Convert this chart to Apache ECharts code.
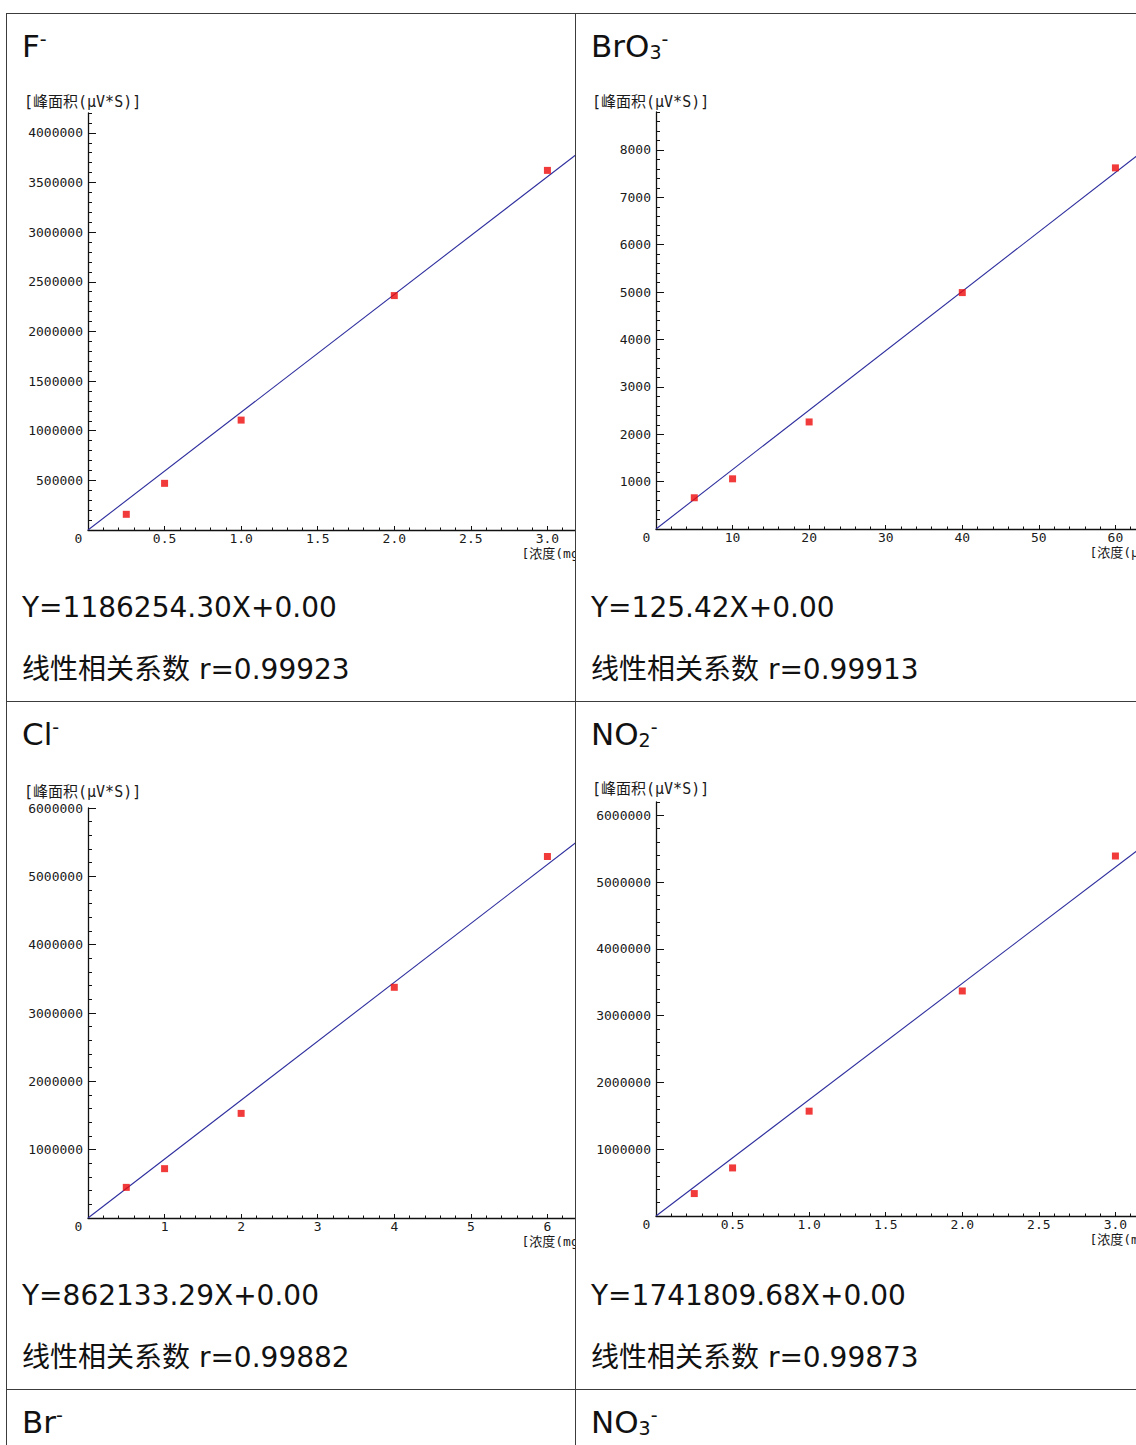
<!DOCTYPE html>
<html><head><meta charset="utf-8">
<script src="https://cdn.jsdelivr.net/npm/echarts@6/dist/echarts.min.js"></script>
<style>
html,body{margin:0;padding:0;background:#fff;}
body{width:1136px;height:1445px;overflow:hidden;position:relative;font-family:"DejaVu Sans","Noto Sans CJK SC",sans-serif;color:#111;}
.hl{position:absolute;height:1px;background:#3c3c3c;}
.vl{position:absolute;width:1px;background:#3c3c3c;}
.t{position:absolute;font-size:31px;line-height:31px;white-space:nowrap;}
.e{position:absolute;font-size:28px;line-height:28px;white-space:nowrap;}
.clip{position:absolute;width:568px;height:560px;overflow:hidden;}
.chart{position:absolute;left:0;top:0;width:720px;height:560px;}
.sb{font-size:19px;position:relative;top:2px;}
.sp{font-size:19px;position:relative;top:-11px;}
</style></head><body>
<script>
// ---------- data ----------
const ionTitles = ['F<span class="sp">-</span>', 'BrO<span class="sb">3</span><span class="sp">-</span>',
                   'Cl<span class="sp">-</span>', 'NO<span class="sb">2</span><span class="sp">-</span>',
                   'Br<span class="sp">-</span>', 'NO<span class="sb">3</span><span class="sp">-</span>'];

const fX = [0.25, 0.5, 1.0, 2.0, 3.0];
const fY = [158000, 470000, 1107000, 2361000, 3622000];
const bro3X = [5, 10, 20, 40, 60];
const bro3Y = [659, 1059, 2259, 4989, 7621];
const clX = [0.5, 1, 2, 4, 6];
const clY = [448000, 722000, 1531000, 3376000, 5290000];
const no2X = [0.25, 0.5, 1.0, 2.0, 3.0];
const no2Y = [336000, 720000, 1570000, 3370000, 5391000];

const slopes = [1186254.30, 125.42, 862133.29, 1741809.68];
const intercepts = ['0.00', '0.00', '0.00', '0.00'];
const rValues = ['0.99923', '0.99913', '0.99882', '0.99873'];

const fYTicks = [500000, 1000000, 1500000, 2000000, 2500000, 3000000, 3500000, 4000000];
const bro3YTicks = [1000, 2000, 3000, 4000, 5000, 6000, 7000, 8000];
const clYTicks = [1000000, 2000000, 3000000, 4000000, 5000000, 6000000];
const no2YTicks = [1000000, 2000000, 3000000, 4000000, 5000000, 6000000];

const fXTicks = [0, 0.5, 1.0, 1.5, 2.0, 2.5, 3.0];
const bro3XTicks = [0, 10, 20, 30, 40, 50, 60];
const clXTicks = [0, 1, 2, 3, 4, 5, 6];
const no2XTicks = [0, 0.5, 1.0, 1.5, 2.0, 2.5, 3.0];

const yAxisName = '[峰面积(μV*S)]';
const xAxisNames = ['[浓度(mg/L)]', '[浓度(μg/L)]', '[浓度(mg/L)]', '[浓度(mg/L)]'];

// ---------- layout ----------
const colX = [6, 575];
const rowY = [13, 701, 1389];
const TICKFONT = '"DejaVu Sans Mono","Noto Sans CJK SC",monospace';

function addDiv(cls, style, html, parent) {
  const d = document.createElement('div');
  d.className = cls; Object.assign(d.style, style);
  if (html !== undefined && html !== null) d.innerHTML = html;
  (parent || document.body).appendChild(d); return d;
}
rowY.forEach(y => addDiv('hl', {left: colX[0] + 'px', top: y + 'px', width: (1136 - colX[0]) + 'px'}));
colX.forEach(x => addDiv('vl', {left: x + 'px', top: rowY[0] + 'px', height: (1445 - rowY[0]) + 'px'}));

ionTitles.forEach((t, i) => {
  const c = i % 2, r = Math.floor(i / 2);
  addDiv('t', {left: (colX[c] + 16) + 'px', top: (rowY[r] + 17.8) + 'px'}, t);
});

const panels = [
  {xs: fX, ys: fY, yTicks: fYTicks, xTicks: fXTicks, yMax: 4200000, yMajor: 500000, yMinor: 100000, xMax: 3.5, xMajor: 0.5, dec: 1,
   c: 0, r: 0, left: 81, top: 99, height: 417, nameY: 88},
  {xs: bro3X, ys: bro3Y, yTicks: bro3YTicks, xTicks: bro3XTicks, yMax: 8800, yMajor: 1000, yMinor: 200, xMax: 70, xMajor: 10, dec: 0,
   c: 1, r: 0, left: 80, top: 98, height: 417, nameY: 88},
  {xs: clX, ys: clY, yTicks: clYTicks, xTicks: clXTicks, yMax: 6000000, yMajor: 1000000, yMinor: 200000, xMax: 7, xMajor: 1, dec: 0,
   c: 0, r: 1, left: 81, top: 106, height: 410, nameY: 90},
  {xs: no2X, ys: no2Y, yTicks: no2YTicks, xTicks: no2XTicks, yMax: 6200000, yMajor: 1000000, yMinor: 200000, xMax: 3.5, xMajor: 0.5, dec: 1,
   c: 1, r: 1, left: 80, top: 100, height: 414, nameY: 87}
];
const GRIDW = 536;
const majorPx = GRIDW / 7;

panels.forEach((p, i) => {
  const x0 = colX[p.c], y0 = rowY[p.r];
  addDiv('e', {left: (x0 + 16) + 'px', top: (y0 + 581.3) + 'px'},
         'Y=' + slopes[i].toFixed(2) + 'X+' + intercepts[i]);
  addDiv('e', {left: (x0 + 16) + 'px', top: (y0 + 643.3) + 'px'},
         '线性相关系数 r=' + rValues[i]);

  const clip = addDiv('clip', {left: (x0 + 1) + 'px', top: (y0 + 1) + 'px'});
  const el = addDiv('chart', {}, null, clip);
  const chart = echarts.init(el, null, {renderer: 'svg', width: 720, height: 560});
  const pts = p.xs.map((x, k) => [x, p.ys[k]]);
  const fit = [[0, 0], [p.xMax, slopes[i] * p.xMax]];
  const majorTicks = [0].concat(p.yTicks);
  const axisCol = '#111';
  const xAxisY = p.top + p.height;

  chart.setOption({
    animation: false,
    grid: {left: p.left, top: p.top, width: GRIDW, height: p.height, containLabel: false, outerBoundsMode: 'none'},
    xAxis: [{
      type: 'value', min: 0, max: p.xMax, interval: p.xMajor,
      axisLine: {show: true, onZero: false, lineStyle: {color: axisCol, width: 1.3}},
      axisTick: {show: true, inside: true, length: 4, lineStyle: {color: axisCol}},
      minorTick: {show: true, splitNumber: 5, length: 2.5, lineStyle: {color: axisCol}},
      axisLabel: {
        margin: 2, fontFamily: TICKFONT, fontSize: 13, color: '#1a1a1a', customValues: p.xTicks,
        formatter: v => v === 0 ? '{z|0}' : (p.xTicks.indexOf(v) >= 0 ? v.toFixed(p.dec) : ''),
        rich: {z: {padding: [0, 19, 0, 0], fontFamily: TICKFONT, fontSize: 13, color: '#1a1a1a'}}
      },
      splitLine: {show: false}, minorSplitLine: {show: false}
    }],
    yAxis: [{
      type: 'value', min: 0, max: p.yMax, interval: p.yMajor, position: 'left',
      axisLine: {show: true, onZero: false, lineStyle: {color: axisCol, width: 1.3}},
      axisTick: {show: true, inside: true, length: 8, customValues: majorTicks, lineStyle: {color: axisCol}},
      axisLabel: {
        show: true, margin: 5, customValues: p.yTicks, fontFamily: TICKFONT, fontSize: 13, color: '#1a1a1a',
        formatter: v => p.yTicks.indexOf(v) >= 0 ? String(v) : ''
      },
      splitLine: {show: false}
    }, {
      type: 'value', min: 0, max: p.yMax, interval: p.yMinor, position: 'left', offset: 0,
      axisLine: {show: false},
      axisTick: {show: true, inside: true, length: 4, lineStyle: {color: axisCol}},
      axisLabel: {show: false}, splitLine: {show: false}
    }],
    graphic: [
      {type: 'text', x: p.left - 64, y: p.nameY, silent: true,
       style: {text: yAxisName, align: 'left', verticalAlign: 'middle', fill: '#1a1a1a',
               font: '15px ' + TICKFONT}},
      {type: 'text', x: p.left + 6 * majorPx - 26, y: xAxisY + 23, silent: true,
       style: {text: xAxisNames[i], align: 'left', verticalAlign: 'middle', fill: '#1a1a1a',
               font: '13px ' + TICKFONT}}
    ],
    series: [
      {type: 'line', data: fit, symbol: 'none', silent: true, z: 2,
       lineStyle: {color: '#2e2e9e', width: 1.1}},
      {type: 'scatter', data: pts, symbol: 'rect', symbolSize: 7, z: 3,
       itemStyle: {color: '#ee0a0a'}}
    ]
  });
});
</script>
</body></html>
